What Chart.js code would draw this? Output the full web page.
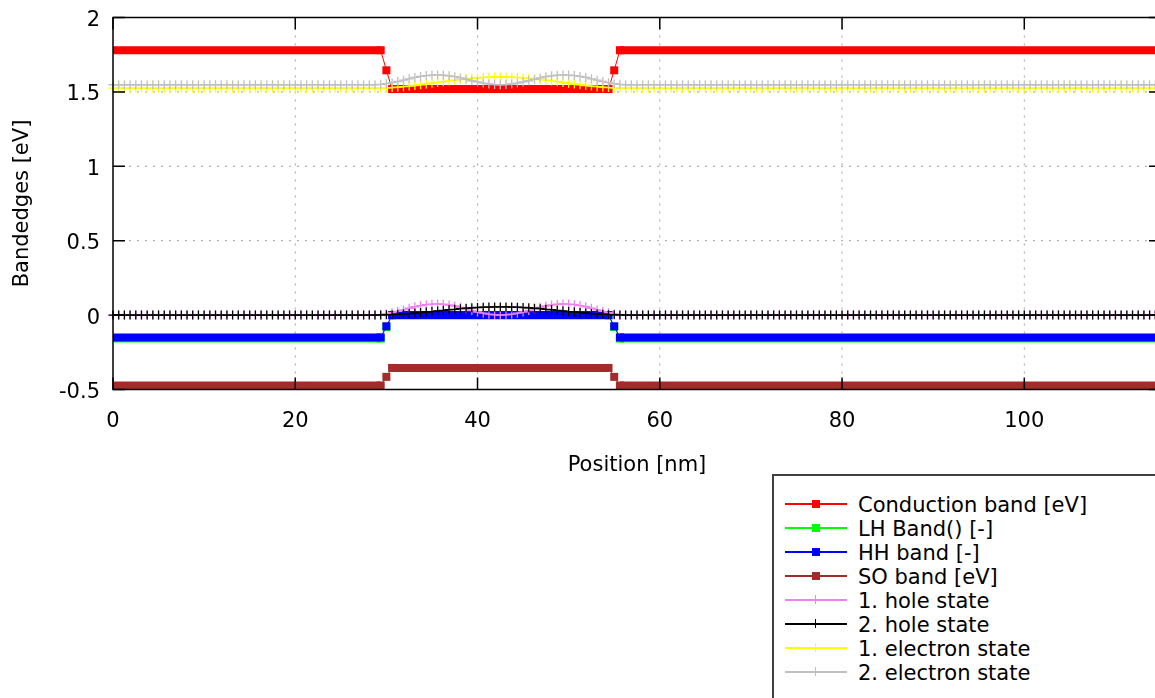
<!DOCTYPE html>
<html><head><meta charset="utf-8">
<script src="https://cdn.jsdelivr.net/npm/chart.js@4.4.0/dist/chart.umd.min.js"></script>
<style>
html,body{margin:0;padding:0;background:#fff;overflow:hidden;width:1155px;height:698px}
#wrap{position:absolute;left:0;top:0;width:1175px;height:698px}
#legend{position:absolute;left:772px;top:474px;width:420px;height:260px;border:2px solid #404040;box-sizing:border-box;background:#fff;font-family:"DejaVu Sans";font-size:21px;color:#000}
#legend div{position:absolute}
.txt{white-space:nowrap;line-height:24px;height:24px}
</style>
</head><body>
<div id="wrap"><canvas id="c"></canvas></div>
<div id="legend"></div>
<script>
// ---- data ----
const seriesNames = ["Conduction band [eV]","LH Band() [-]","HH band [-]","SO band [eV]",
  "1. hole state","2. hole state","1. electron state","2. electron state"];
const seriesColors = ["#ff0000","#00ff00","#0000ff","#a52a2a","#ee82ee","#000000","#ffff00","#c0c0c0"];
const xTicks = [0,20,40,60,80,100];
const yTicks = [-0.5,0,0.5,1,1.5,2];
const xRange = [0,115];
const yRange = [-0.5,2];

// band edges: node positions (nm) and energies (eV)
const bandNodesNm    = [0, 29.375, 30, 30.625, 54.375, 55, 55.625, 115];
const conductionBand = [1.78, 1.78, 1.645, 1.519, 1.519, 1.645, 1.78, 1.78];
const lhBand         = [-0.158, -0.158, -0.08, -0.002, -0.002, -0.08, -0.158, -0.158];
const hhBand         = [-0.15, -0.15, -0.075, 0, 0, -0.075, -0.15, -0.15];
const soBand         = [-0.473, -0.473, -0.415, -0.355, -0.355, -0.415, -0.473, -0.473];

// states: sampled every 0.625 nm; values inside the well region start at 28.75 nm
const sampleStepNm = 0.625;
const wellSampleStartNm = 28.75;
const hole1Level = 0, hole2Level = 0, electron1Level = 1.525, electron2Level = 1.548;
const hole1Well = [0,0.003,0.008,0.016,0.025,0.035,0.046,0.056,0.064,0.070,0.074,0.075,0.073,0.068,0.061,0.052,0.042,0.031,0.021,0.013,0.006,0.001,
  0,
  0.001,0.006,0.013,0.021,0.031,0.042,0.052,0.061,0.068,0.073,0.075,0.074,0.070,0.064,0.056,0.046,0.035,0.025,0.016,0.008,0.003,0];
const hole2Well = [0,0.001,0.002,0.003,0.005,0.008,0.010,0.014,0.017,0.021,0.024,0.028,0.032,0.036,0.039,0.043,0.046,0.049,0.051,0.053,0.054,0.055,
  0.055,
  0.055,0.054,0.053,0.051,0.049,0.046,0.043,0.039,0.036,0.032,0.028,0.024,0.021,0.017,0.014,0.010,0.008,0.005,0.003,0.002,0.001,0];
const electron1Well = [1.525,1.526,1.527,1.529,1.532,1.535,1.539,1.543,1.548,1.553,1.558,1.564,1.569,1.574,1.579,1.583,1.587,1.591,1.594,1.597,1.599,1.600,
  1.600,
  1.600,1.599,1.597,1.594,1.591,1.587,1.583,1.579,1.574,1.569,1.564,1.558,1.553,1.548,1.543,1.539,1.535,1.532,1.529,1.527,1.526,1.525];
const electron2Well = [1.548,1.551,1.555,1.562,1.570,1.579,1.588,1.597,1.604,1.610,1.613,1.614,1.612,1.608,1.602,1.594,1.585,1.575,1.567,1.559,1.553,1.549,
  1.548,
  1.549,1.553,1.559,1.567,1.575,1.585,1.594,1.602,1.608,1.612,1.614,1.613,1.610,1.604,1.597,1.588,1.579,1.570,1.562,1.555,1.551,1.548];

// ---- build datasets ----
function bandData(vals){ return bandNodesNm.map((x,i)=>({x:x,y:vals[i]})); }
function stateData(well, level){
  const pts=[]; const n=Math.round(xRange[1]/sampleStepNm); const i0=Math.round(wellSampleStartNm/sampleStepNm);
  for(let i=0;i<=n;i++){ const j=i-i0; pts.push({x:i*sampleStepNm, y:(j>=0&&j<well.length)?well[j]:level}); }
  return pts;
}
const seriesData = [bandData(conductionBand),bandData(lhBand),bandData(hhBand),bandData(soBand),
  stateData(hole1Well,hole1Level),stateData(hole2Well,hole2Level),stateData(electron1Well,electron1Level),stateData(electron2Well,electron2Level)];
const isBand = i => i < 4;

const datasets = seriesData.map((d,i)=>{
  const c = seriesColors[i];
  const base = {label:seriesNames[i], data:d, borderColor:c, backgroundColor:c, pointBorderColor:c, pointBackgroundColor:c,
    borderWidth:1, tension:0, clip:false, order:8-i, borderCapStyle:'butt'};
  if (isBand(i)) {
    const last = d.length-1;
    return Object.assign(base,{pointStyle:'rect', pointBorderWidth:0,
      pointRadius: ctx => (ctx.dataIndex===0||ctx.dataIndex===last)?0:5.66,
      segment:{borderWidth: s => s.p0.parsed.y===s.p1.parsed.y ? 8 : 1}});
  }
  return Object.assign(base,{pointStyle:'cross', pointRadius:4.5, pointBorderWidth:1.3});
});

const FONT = 'DejaVu Sans';
Chart.defaults.font.family = FONT;
Chart.defaults.color = '#000';

const framePlugin = {
  id:'frame',
  beforeDatasetsDraw(chart){
    const {ctx, chartArea:a, scales:{x,y}} = chart;
    ctx.save(); ctx.strokeStyle='#a0a0a0'; ctx.lineWidth=1; ctx.setLineDash([2,6]);
    xTicks.forEach(v=>{ if(v<=xRange[0]) return; const px=x.getPixelForValue(v);
      ctx.beginPath(); ctx.moveTo(px,a.bottom); ctx.lineTo(px,a.top); ctx.stroke(); });
    yTicks.forEach(v=>{ if(v<=yRange[0]||v>=yRange[1]) return; const py=y.getPixelForValue(v);
      ctx.beginPath(); ctx.moveTo(a.left,py); ctx.lineTo(a.right,py); ctx.stroke(); });
    ctx.restore();
  },
  afterDatasetsDraw(chart){
    const {ctx, chartArea:a, scales:{x,y}} = chart;
    ctx.save(); ctx.strokeStyle='#000'; ctx.lineWidth=1.5; ctx.setLineDash([]);
    ctx.strokeRect(a.left,a.top,a.right-a.left,a.bottom-a.top);
    const L=12;
    xTicks.forEach(v=>{ const px=x.getPixelForValue(v); ctx.beginPath();
      ctx.moveTo(px,a.bottom); ctx.lineTo(px,a.bottom-L); ctx.moveTo(px,a.top); ctx.lineTo(px,a.top+L); ctx.stroke(); });
    yTicks.forEach(v=>{ const py=y.getPixelForValue(v); ctx.beginPath();
      ctx.moveTo(a.left,py); ctx.lineTo(a.left+L,py); ctx.moveTo(a.right,py); ctx.lineTo(a.right-L,py); ctx.stroke(); });
    ctx.restore();
  }
};

new Chart(document.getElementById('c'), {
  type:'line',
  data:{datasets},
  options:{
    responsive:true, maintainAspectRatio:false, animation:false, devicePixelRatio:1,
    layout:{padding:{left:0, top:17.5, right:14, bottom:220}},
    plugins:{legend:{display:false}, tooltip:{enabled:false}},
    scales:{
      x:{type:'linear', min:xRange[0], max:xRange[1],
        grid:{display:false, drawTicks:false}, border:{display:false},
        afterBuildTicks: s => { s.ticks = xTicks.map(v=>({value:v})); },
        afterFit: s => { s.height = 478 - 389.5; s.paddingLeft = 0; s.paddingRight = 0; },
        ticks:{padding:19, maxRotation:0, font:{size:21}, color:'#000', callback:v=>String(v)},
        title:{display:true, text:'Position [nm]', font:{size:21}, color:'#000', padding:{top:0,bottom:0}}},
      y:{type:'linear', min:yRange[0], max:yRange[1],
        grid:{display:false, drawTicks:false}, border:{display:false},
        afterBuildTicks: s => { s.ticks = yTicks.map(v=>({value:v})); },
        afterFit: s => { s.width = 113; s.paddingTop = 0; s.paddingBottom = 0; },
        ticks:{padding:13, labelOffset:3, font:{size:21}, color:'#000', callback:v=>String(v)},
        title:{display:true, text:'Bandedges [eV]', font:{size:21}, color:'#000', padding:{top:10,bottom:0}}}
    }
  },
  plugins:[framePlugin]
});

// ---- legend (HTML) ----
const leg = document.getElementById('legend');
seriesNames.forEach((name,i)=>{
  const cy = 27.5 + 24*i, c = seriesColors[i];
  const line = document.createElement('div');
  Object.assign(line.style,{left:'11px', top:(cy-1)+'px', width:'62px', height:'2px', background:c});
  leg.appendChild(line);
  const m = document.createElement('div');
  if (isBand(i)) Object.assign(m.style,{left:'38px', top:(cy-4)+'px', width:'8px', height:'8px', background:c});
  else Object.assign(m.style,{left:'41px', top:(cy-4.5)+'px', width:'1px', height:'9px', background:c});
  leg.appendChild(m);
  const t = document.createElement('div'); t.className='txt'; t.textContent=name;
  Object.assign(t.style,{left:'84px', top:(cy-11)+'px'});
  leg.appendChild(t);
});
</script>
</body></html>
